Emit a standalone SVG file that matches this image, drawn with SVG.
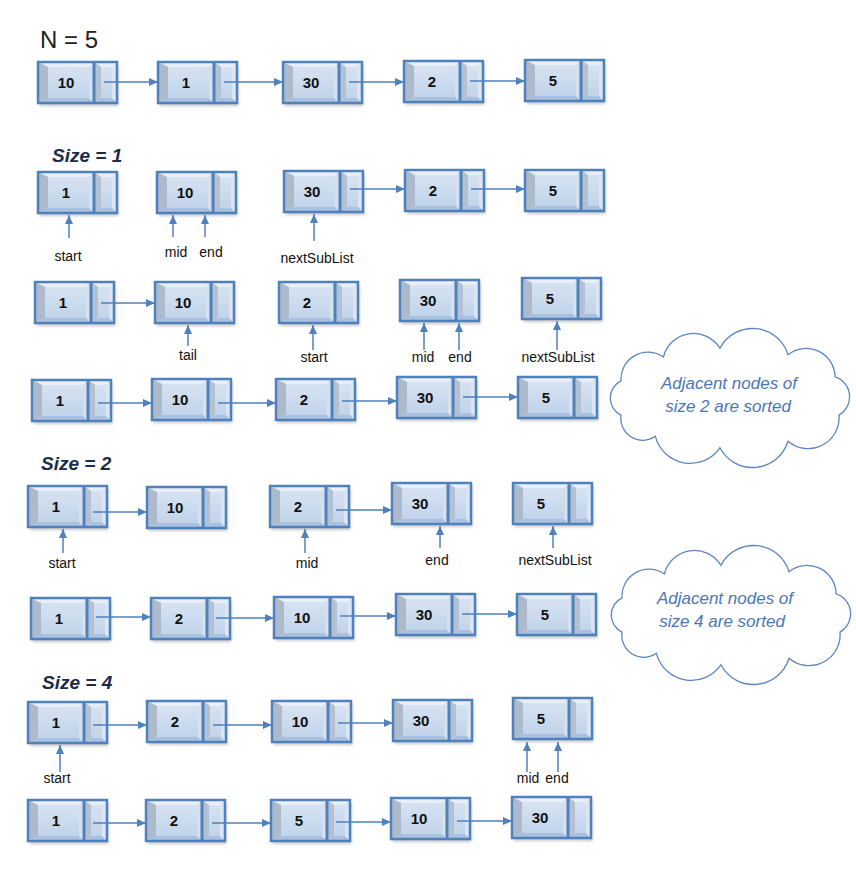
<svg xmlns="http://www.w3.org/2000/svg" xmlns:xlink="http://www.w3.org/1999/xlink" width="856" height="888" viewBox="0 0 856 888">
<style>
.val{font-family:"Liberation Sans",Arial,sans-serif;font-weight:bold;font-size:15px;fill:#111;text-anchor:middle}
.lbl{font-family:"Liberation Sans",Arial,sans-serif;font-size:14px;fill:#111;text-anchor:middle}
.hdr{font-family:"Liberation Sans",Arial,sans-serif;font-weight:bold;font-style:italic;font-size:19px;fill:#1c2b4a}
.ttl{font-family:"Liberation Sans",Arial,sans-serif;font-size:24px;fill:#222}
.cl{font-family:"Liberation Sans",Arial,sans-serif;font-style:italic;font-size:17px;fill:#4a76b8;text-anchor:middle}
.cn line{stroke:#4f81bd;stroke-width:1.5;marker-end:url(#ah)}
.cloud{fill:#fff;stroke:#5b86c2;stroke-width:1.3}
</style>
<defs>
<marker id="ah" markerUnits="userSpaceOnUse" markerWidth="10" markerHeight="9" refX="9" refY="4" orient="auto">
<path d="M0,0 L9,4 L0,8 z" fill="#4f81bd"/>
</marker>
<linearGradient id="face" x1="0" y1="0" x2="0" y2="1">
<stop offset="0" stop-color="#dae5f3"/>
<stop offset="1" stop-color="#bed1e9"/>
</linearGradient>
<filter id="blur" x="-20%" y="-20%" width="140%" height="140%"><feGaussianBlur stdDeviation="1.5"/></filter>
<g id="node">
<rect x="1.5" y="3" width="79" height="41" fill="#000" opacity="0.22" filter="url(#blur)"/>
<rect x="0" y="0" width="79" height="41" fill="url(#face)"/>
<polygon points="0,0 56,0 51,5 10,5" fill="#e8eff8"/>
<polygon points="0,0 10,5 10,36 0,41" fill="#adbacb"/>
<polygon points="0,41 10,36 51,36 56,41" fill="#a9c1df"/>
<polygon points="56,0 56,41 51,36 51,5" fill="#d6e1f0"/>
<polygon points="56,0 79,0 74,5 63,5" fill="#e8eff8"/>
<polygon points="56,0 63,5 63,36 56,41" fill="#b3c1d3"/>
<polygon points="56,41 63,36 74,36 79,41" fill="#a9c1df"/>
<polygon points="79,0 79,41 74,36 74,5" fill="#dbe5f3"/>
<rect x="0" y="0" width="79" height="41" fill="none" stroke="#4f81bd" stroke-width="2.5"/>
<line x1="56" y1="0" x2="56" y2="41" stroke="#4f81bd" stroke-width="3"/>
</g>
<path id="cloudShape" d="M-109,17.1 A19,19 0 0 1 -109,-17.1 A27,27 0 0 1 -66.6,-41 A31,31 0 0 1 -10.1,-49.8 A37,37 0 0 1 58,-43.3 A29,29 0 0 1 105.1,-21.1 A21,21 0 0 1 109,17.1 A31,31 0 0 1 58,43.3 A37,37 0 0 1 -10.1,49.8 A36,36 0 0 1 -74.6,38.3 A22,22 0 0 1 -109,17.1 Z"/>
</defs>
<rect width="856" height="888" fill="#fff"/>

<text class="ttl" x="40" y="48">N = 5</text>
<text class="hdr" x="52" y="162">Size = 1</text>
<text class="hdr" x="41" y="470">Size = 2</text>
<text class="hdr" x="42" y="689">Size = 4</text>

<!-- Row 1 -->
<g id="r1n1" transform="translate(38,62)"><use href="#node"/><text class="val" x="28" y="26">10</text></g>
<g id="r1n2" transform="translate(158,62)"><use href="#node"/><text class="val" x="28" y="26">1</text></g>
<g id="r1n3" transform="translate(283,62)"><use href="#node"/><text class="val" x="28" y="26">30</text></g>
<g id="r1n4" transform="translate(404,61)"><use href="#node"/><text class="val" x="28" y="26">2</text></g>
<g id="r1n5" transform="translate(525,60)"><use href="#node"/><text class="val" x="28" y="26">5</text></g>

<!-- Row 2 -->
<g id="r2n1" transform="translate(38,172)"><use href="#node"/><text class="val" x="28" y="26">1</text></g>
<g id="r2n2" transform="translate(157,172)"><use href="#node"/><text class="val" x="28" y="26">10</text></g>
<g id="r2n3" transform="translate(284,171)"><use href="#node"/><text class="val" x="28" y="26">30</text></g>
<g id="r2n4" transform="translate(405,170)"><use href="#node"/><text class="val" x="28" y="26">2</text></g>
<g id="r2n5" transform="translate(525,170)"><use href="#node"/><text class="val" x="28" y="26">5</text></g>

<!-- Row 3 -->
<g id="r3n1" transform="translate(35,282)"><use href="#node"/><text class="val" x="28" y="26">1</text></g>
<g id="r3n2" transform="translate(155,282)"><use href="#node"/><text class="val" x="28" y="26">10</text></g>
<g id="r3n3" transform="translate(279,282)"><use href="#node"/><text class="val" x="28" y="26">2</text></g>
<g id="r3n4" transform="translate(400,280)"><use href="#node"/><text class="val" x="28" y="26">30</text></g>
<g id="r3n5" transform="translate(522,278)"><use href="#node"/><text class="val" x="28" y="26">5</text></g>

<!-- Row 4 -->
<g id="r4n1" transform="translate(32,380)"><use href="#node"/><text class="val" x="28" y="26">1</text></g>
<g id="r4n2" transform="translate(152,379)"><use href="#node"/><text class="val" x="28" y="26">10</text></g>
<g id="r4n3" transform="translate(276,379)"><use href="#node"/><text class="val" x="28" y="26">2</text></g>
<g id="r4n4" transform="translate(397,377)"><use href="#node"/><text class="val" x="28" y="26">30</text></g>
<g id="r4n5" transform="translate(518,377)"><use href="#node"/><text class="val" x="28" y="26">5</text></g>

<!-- Row 5 -->
<g id="r5n1" transform="translate(28,486)"><use href="#node"/><text class="val" x="28" y="26">1</text></g>
<g id="r5n2" transform="translate(147,487)"><use href="#node"/><text class="val" x="28" y="26">10</text></g>
<g id="r5n3" transform="translate(270,486)"><use href="#node"/><text class="val" x="28" y="26">2</text></g>
<g id="r5n4" transform="translate(392,483)"><use href="#node"/><text class="val" x="28" y="26">30</text></g>
<g id="r5n5" transform="translate(513,483)"><use href="#node"/><text class="val" x="28" y="26">5</text></g>

<!-- Row 6 -->
<g id="r6n1" transform="translate(31,598)"><use href="#node"/><text class="val" x="28" y="26">1</text></g>
<g id="r6n2" transform="translate(151,598)"><use href="#node"/><text class="val" x="28" y="26">2</text></g>
<g id="r6n3" transform="translate(274,597)"><use href="#node"/><text class="val" x="28" y="26">10</text></g>
<g id="r6n4" transform="translate(396,594)"><use href="#node"/><text class="val" x="28" y="26">30</text></g>
<g id="r6n5" transform="translate(517,594)"><use href="#node"/><text class="val" x="28" y="26">5</text></g>

<!-- Row 7 -->
<g id="r7n1" transform="translate(28,702)"><use href="#node"/><text class="val" x="28" y="26">1</text></g>
<g id="r7n2" transform="translate(147,701)"><use href="#node"/><text class="val" x="28" y="26">2</text></g>
<g id="r7n3" transform="translate(272,701)"><use href="#node"/><text class="val" x="28" y="26">10</text></g>
<g id="r7n4" transform="translate(393,700)"><use href="#node"/><text class="val" x="28" y="26">30</text></g>
<g id="r7n5" transform="translate(513,698)"><use href="#node"/><text class="val" x="28" y="26">5</text></g>

<!-- Row 8 -->
<g id="r8n1" transform="translate(28,800)"><use href="#node"/><text class="val" x="28" y="26">1</text></g>
<g id="r8n2" transform="translate(146,800)"><use href="#node"/><text class="val" x="28" y="26">2</text></g>
<g id="r8n3" transform="translate(271,800)"><use href="#node"/><text class="val" x="28" y="26">5</text></g>
<g id="r8n4" transform="translate(391,798)"><use href="#node"/><text class="val" x="28" y="26">10</text></g>
<g id="r8n5" transform="translate(512,797)"><use href="#node"/><text class="val" x="28" y="26">30</text></g>

<!-- Clouds -->
<g id="cloud1"><use href="#cloudShape" class="cloud" transform="translate(730,398)"/>
<text class="cl" x="729" y="389">Adjacent nodes of</text>
<text class="cl" x="728" y="412">size 2 are sorted</text></g>
<g id="cloud2"><use href="#cloudShape" class="cloud" transform="translate(731,615)"/>
<text class="cl" x="725" y="604">Adjacent nodes of</text>
<text class="cl" x="722" y="627">size 4 are sorted</text></g>

<!-- Connectors -->
<g id="connectors" class="cn">
<line x1="104" y1="82" x2="158" y2="82"/>
<line x1="224" y1="82" x2="283" y2="82"/>
<line x1="349" y1="82" x2="404" y2="82"/>
<line x1="470" y1="81" x2="525" y2="81"/>

<line x1="350" y1="189" x2="405" y2="189"/>
<line x1="471" y1="189" x2="525" y2="189"/>

<line x1="101" y1="303" x2="155" y2="303"/>

<line x1="98" y1="403" x2="152" y2="403"/>
<line x1="218" y1="403" x2="276" y2="403"/>
<line x1="342" y1="401" x2="397" y2="401"/>
<line x1="463" y1="397" x2="518" y2="397"/>

<line x1="93" y1="512" x2="147" y2="512"/>
<line x1="336" y1="510" x2="392" y2="510"/>

<line x1="96" y1="617" x2="151" y2="617"/>
<line x1="216" y1="618" x2="274" y2="618"/>
<line x1="340" y1="616" x2="396" y2="616"/>
<line x1="462" y1="614" x2="517" y2="614"/>

<line x1="93" y1="725" x2="147" y2="725"/>
<line x1="213" y1="725" x2="272" y2="725"/>
<line x1="338" y1="723" x2="393" y2="723"/>

<line x1="93" y1="823" x2="146" y2="823"/>
<line x1="212" y1="823" x2="271" y2="823"/>
<line x1="336" y1="822" x2="391" y2="822"/>
<line x1="457" y1="821" x2="512" y2="821"/>

<line x1="69" y1="238" x2="69" y2="215"/>
<line x1="173" y1="237" x2="173" y2="215"/>
<line x1="205" y1="237" x2="205" y2="215"/>
<line x1="314" y1="241" x2="314" y2="214"/>

<line x1="188" y1="346" x2="188" y2="325"/>
<line x1="313" y1="350" x2="313" y2="325"/>
<line x1="424" y1="350" x2="424" y2="323"/>
<line x1="459" y1="350" x2="459" y2="323"/>
<line x1="557" y1="350" x2="557" y2="321"/>

<line x1="63" y1="553" x2="63" y2="529"/>
<line x1="305" y1="553" x2="305" y2="529"/>
<line x1="440" y1="548" x2="440" y2="526"/>
<line x1="553" y1="548" x2="553" y2="526"/>

<line x1="60" y1="772" x2="60" y2="745"/>
<line x1="527" y1="772" x2="527" y2="742"/>
<line x1="558" y1="772" x2="558" y2="742"/>
</g>

<!-- Labels -->
<g id="labels">
<text class="lbl" x="68" y="261">start</text>
<text class="lbl" x="176" y="257">mid</text>
<text class="lbl" x="211" y="257">end</text>
<text class="lbl" x="317" y="263">nextSubList</text>

<text class="lbl" x="188" y="360">tail</text>
<text class="lbl" x="314" y="362">start</text>
<text class="lbl" x="423" y="362">mid</text>
<text class="lbl" x="460" y="362">end</text>
<text class="lbl" x="558" y="362">nextSubList</text>

<text class="lbl" x="62" y="568">start</text>
<text class="lbl" x="307" y="568">mid</text>
<text class="lbl" x="437" y="565">end</text>
<text class="lbl" x="555" y="565">nextSubList</text>

<text class="lbl" x="57" y="783">start</text>
<text class="lbl" x="528" y="783">mid</text>
<text class="lbl" x="557" y="783">end</text>
</g>
</svg>
